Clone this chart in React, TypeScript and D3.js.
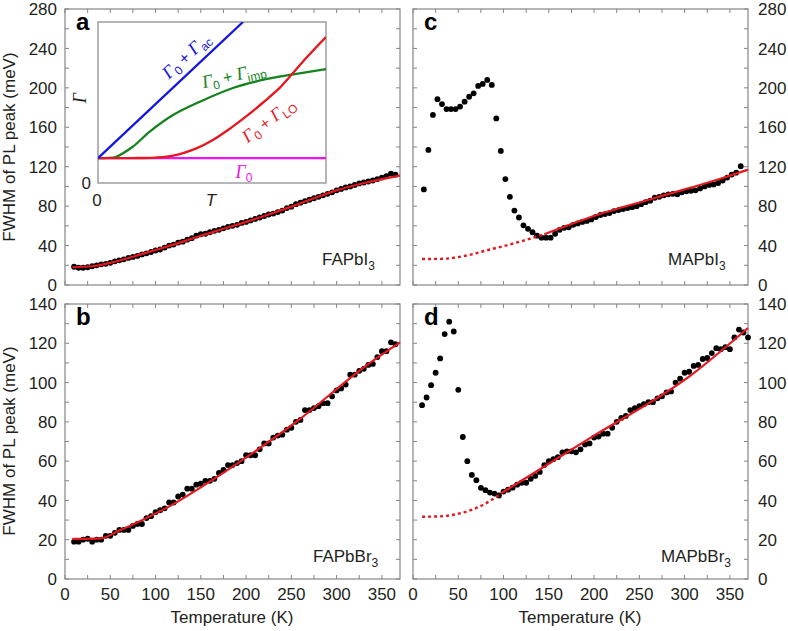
import React from 'react';
import * as d3 from 'd3';

const FONT = "'Liberation Sans', Arial, Helvetica, sans-serif";
const SERIF = "'Liberation Serif', 'Times New Roman', serif";

// ---------- data ----------
const tempsA = [10,15,20,25,30,35,40,45,50,55,60,65,70,75,80,85,90,95,100,105,110,115,120,125,130,135,140,145,150,155,160,165,170,175,180,185,190,195,200,205,210,215,220,225,230,235,240,245,250,255,260,265,270,275,280,285,290,295,300,305,310,315,320,325,330,335,340,345,350,355,360,365];
const fwhmFAPbI3 = [18.5,17.5,17.5,18,19,20,21,21.5,22.5,24,25,26,27.5,28.5,29.5,31,32,33.5,35,36,38,40,41,43,44,46,47.5,50,51.5,52,53.5,55,56,57.5,59,60,61,63,64,65.5,67,68.5,70,71.5,72.5,74,75.5,78,79.5,82,83.5,85,86.5,88,89.5,91,92.5,94,96,97.5,99,100,101.5,103,104,105,106,107.5,109,110.5,113,112];
const fitFAPbI3 = [[8,18],[30,19],[50,22.5],[75,28.7],[100,35.5],[125,42.5],[150,50],[175,57],[200,64],[225,71.5],[250,79.5],[275,88],[300,96],[333,104],[370,111]];

const fwhmFAPbBr3 = [19,19,20,20.5,19,20,20,22,22,23.5,25,25,25,27,28,28,31,32,34,35,36,39,39,42,43,46,46,48,48.5,50,50,51,54,55.5,58,58,59,60,63,63,63,66,69,69,72,73,73.5,76,77,80,81,86,86,87,88,89.5,89.5,93,96,97,99,104,104,106,107,109,109.5,113,116,116,120.5,119.5];
const fitFAPbBr3 = [[8,20.4],[40,20.7],[57,24],[112,36.2],[186,57.5],[259,81.3],[333,108.8],[370,120.5]];

const tempsC = [12,17,22,27,32,37,42,47,52,57,62,67,72,77,82,87,92,97,102,107,112,117,122,127,132,137,142,147,152,157,162,167,172,177,182,187,192,197,202,207,212,217,222,227,232,237,242,247,252,257,262,267,272,277,282,287,292,297,302,307,312,317,322,327,332,337,342,347,352,357,362];
const fwhmMAPbI3 = [97,137,172.5,188.5,183.5,178.5,178.5,178.5,181,186,191,194.5,202,204,208,203,169,136,107.5,89.5,75.5,68.5,60.5,57,53.5,50,48,48,48,52,56,58,58.5,61,62.5,64,65,66.5,69,71,72,73,75,76,77,78,79,80,82,84,85.5,88.5,89.5,91,92,92.5,92,94,95,95.5,96,98,100,101.5,102,103.5,106,109,112,114,120.5];
const fitMAPbI3 = [[145,51.5],[195,68.5],[268,88.5],[342,108.5],[370,117]];
const extMAPbI3 = [[10,26.4],[30,26.5],[48,28],[85,36],[122,45],[145,51.5]];

const tempsD = [10,15,20,25,30,35,40,45,50,55,60,65,70,75,80,85,90,95,100,105,110,115,120,125,130,135,140,145,150,155,160,165,170,175,180,185,190,195,200,205,210,215,220,225,230,235,240,245,250,255,260,265,270,275,280,285,290,295,300,305,310,315,320,325,330,335,340,345,350,355,360,365,370];
const fwhmMAPbBr3 = [88.5,92.4,98.7,105,112.3,124.7,131,126,96.3,72.3,60,53,50.3,46.4,45.2,44,43.5,42.5,44.5,45.5,46.5,48,49,49,51,52.5,54.5,58,60,61,62,64.5,65,65,64.5,66,68.5,69,72,72.5,74,74,77,80,82,83,86,87,88,89,90,90,92,93,95,95.5,100,102,105,105.5,108.5,109,112,112.5,115,117.5,117,118,117,123,127,125.5,123];
const fitMAPbBr3 = [[97,43.5],[195,71.6],[306,103.4],[370,127.8]];
const extMAPbBr3 = [[10,31.7],[30,31.9],[50,33.2],[66,35.4],[84.5,39.6],[97,43.5]];

const xTickLabels = [0,50,100,150,200,250,300,350];
const yLabelsTop = [0,40,80,120,160,200,240,280];
const yLabelsBottom = [0,20,40,60,80,100,120,140];

// inset schematic curves (T and Γ in relative units)
const insetAc = [[0,0.155],[0.636,1]];
const insetImp = [[0,0.155],[0.04,0.156],[0.08,0.163],[0.152,0.225],[0.227,0.319],[0.329,0.422],[0.447,0.505],[0.592,0.59],[0.741,0.646],[0.842,0.671],[1,0.708]];
const insetLO = [[0,0.155],[0.15,0.155],[0.25,0.158],[0.33,0.17],[0.434,0.217],[0.504,0.267],[0.579,0.338],[0.654,0.418],[0.724,0.5],[0.798,0.592],[0.842,0.662],[0.917,0.783],[1,0.907]];
const inset0 = [[0,0.155],[1,0.155]];

const RED = '#e5171f';
const FRAME = '#858585';
const TXT = '#231f20';

type P = number[];

function Compound({ x, y, base, sub }: { x: number; y: number; base: string; sub: string }) {
  return (
    <text x={x} y={y} fontFamily={FONT} fontSize={17} fill={TXT}>
      {base}
      <tspan dy={5} fontSize={12}>{sub}</tspan>
    </text>
  );
}

function Panel(props: any) {
  const { x0, x1, y0, y1, yMax, yStep, yLabels, side, showX, temps, values, fit, ext, letter, comp, compX, compY } = props;
  const x = d3.scaleLinear().domain([0, 370]).range([x0, x1]);
  const y = d3.scaleLinear().domain([0, yMax]).range([y1, y0]);
  const line = d3.line<P>().x(d => x(d[0])).y(d => y(d[1])).curve(d3.curveMonotoneX);
  const xt = d3.range(0, 371, 25);
  const yt = d3.range(0, yMax + 0.1, yStep);
  const tl = 4;
  return (
    <g>
      <rect x={x0} y={y0} width={x1 - x0} height={y1 - y0} fill="white" stroke={FRAME} strokeWidth={1.2} />
      {xt.map(t => (
        <g key={'x' + t}>
          <line x1={x(t)} x2={x(t)} y1={y1} y2={y1 - tl} stroke={FRAME} strokeWidth={1} />
          <line x1={x(t)} x2={x(t)} y1={y0} y2={y0 + tl} stroke={FRAME} strokeWidth={1} />
        </g>
      ))}
      {yt.map(v => (
        <g key={'y' + v}>
          <line x1={x0} x2={x0 + tl} y1={y(v)} y2={y(v)} stroke={FRAME} strokeWidth={1} />
          <line x1={x1} x2={x1 - tl} y1={y(v)} y2={y(v)} stroke={FRAME} strokeWidth={1} />
        </g>
      ))}
      {yLabels.map((v: number) => (
        <text key={'yl' + v} x={side === 'left' ? x0 - 8 : x1 + 10} y={y(v)} dy="0.36em"
          textAnchor={side === 'left' ? 'end' : 'start'} fontFamily={FONT} fontSize={17} fill={TXT}>{v}</text>
      ))}
      {showX && xTickLabels.map(v => (
        <text key={'xl' + v} x={x(v)} y={y1 + 21} textAnchor="middle" fontFamily={FONT} fontSize={17} fill={TXT}>{v}</text>
      ))}
      {temps.map((t: number, i: number) => (
        <circle key={'d' + i} cx={x(t)} cy={y(values[i])} r={2.9} fill="#000" />
      ))}
      {ext && <path d={line(ext) || ''} fill="none" stroke={RED} strokeWidth={2.4} strokeDasharray="3,3" />}
      <path d={line(fit) || ''} fill="none" stroke={RED} strokeWidth={2.2} />
      <text x={x0 + 11} y={y0 + 21} fontFamily={FONT} fontWeight="bold" fontSize={24} fill="#000">{letter}</text>
      <Compound x={compX} y={compY} base={comp[0]} sub={comp[1]} />
    </g>
  );
}

function GammaLabel({ x, y, angle, sub, color }: { x: number; y: number; angle: number; sub: string; color: string }) {
  return (
    <text transform={`translate(${x},${y}) rotate(${angle})`} textAnchor="middle" fill={color} fontFamily={FONT} fontSize={16}>
      <tspan fontFamily={SERIF} fontStyle="italic" fontSize={18}>Γ</tspan>
      <tspan dy={4} fontSize={12}>0</tspan>
      <tspan dy={-4}>{'\u00a0+\u00a0'}</tspan>
      <tspan fontFamily={SERIF} fontStyle="italic" fontSize={18}>Γ</tspan>
      <tspan dy={4} fontSize={12}>{sub}</tspan>
    </text>
  );
}

function Inset() {
  const ix = d3.scaleLinear().domain([0, 1]).range([98, 326]);
  const iy = d3.scaleLinear().domain([0, 1]).range([183, 22]);
  const line = d3.line<P>().x(d => ix(d[0])).y(d => iy(d[1])).curve(d3.curveCatmullRom.alpha(0.5));
  return (
    <g>
      <rect x={98} y={22} width={228} height={161} fill="white" stroke={FRAME} strokeWidth={1.2} />
      <defs>
        <clipPath id="insetClip"><rect x={98} y={22} width={228} height={161} /></clipPath>
      </defs>
      <g clipPath="url(#insetClip)">
        <path d={line(inset0) || ''} fill="none" stroke="#f012f0" strokeWidth={2.3} />
        <path d={line(insetImp) || ''} fill="none" stroke="#16821e" strokeWidth={2.3} />
        <path d={line(insetLO) || ''} fill="none" stroke={RED} strokeWidth={2.3} />
        <path d={line(insetAc) || ''} fill="none" stroke="#1515e0" strokeWidth={2.3} />
      </g>
      <GammaLabel x={190} y={60} angle={-43} sub="ac" color="#1515e0" />
      <GammaLabel x={235} y={81} angle={-13} sub="imp" color="#16821e" />
      <GammaLabel x={272} y={125} angle={-37} sub="LO" color={RED} />
      <text x={244} y={178} fill="#f012f0" fontFamily={FONT} fontSize={16} textAnchor="middle">
        <tspan fontFamily={SERIF} fontStyle="italic" fontSize={18}>Γ</tspan>
        <tspan dy={4} fontSize={12}>0</tspan>
      </text>
      <text x={91} y={189} textAnchor="end" fontFamily={FONT} fontSize={17} fill={TXT}>0</text>
      <text x={97} y={206} textAnchor="middle" fontFamily={FONT} fontSize={17} fill={TXT}>0</text>
      <text x={211} y={206} textAnchor="middle" fontFamily={FONT} fontStyle="italic" fontSize={17} fill={TXT}>T</text>
      <text transform="translate(86,98) rotate(-90)" textAnchor="middle" fontFamily={SERIF} fontStyle="italic" fontSize={18} fill={TXT}>Γ</text>
    </g>
  );
}

export default function App() {
  const L = [65, 400];
  const R = [413, 748];
  const T = [9, 285];
  const B = [304, 579];
  return (
    <svg width={788} height={631} style={{ position: 'absolute', left: 0, top: 0, background: 'white' }}>
      <rect x={0} y={0} width={788} height={631} fill="white" />
      <Panel x0={L[0]} x1={L[1]} y0={T[0]} y1={T[1]} yMax={280} yStep={20} yLabels={yLabelsTop} side="left" showX={false}
        temps={tempsA} values={fwhmFAPbI3} fit={fitFAPbI3} letter="a" comp={['FAPbI', '3']} compX={322} compY={265} />
      <Inset />
      <Panel x0={R[0]} x1={R[1]} y0={T[0]} y1={T[1]} yMax={280} yStep={20} yLabels={yLabelsTop} side="right" showX={false}
        temps={tempsC} values={fwhmMAPbI3} fit={fitMAPbI3} ext={extMAPbI3} letter="c" comp={['MAPbI', '3']} compX={668} compY={265} />
      <Panel x0={L[0]} x1={L[1]} y0={B[0]} y1={B[1]} yMax={140} yStep={10} yLabels={yLabelsBottom} side="left" showX={true}
        temps={tempsA} values={fwhmFAPbBr3} fit={fitFAPbBr3} letter="b" comp={['FAPbBr', '3']} compX={313} compY={562} />
      <Panel x0={R[0]} x1={R[1]} y0={B[0]} y1={B[1]} yMax={140} yStep={10} yLabels={yLabelsBottom} side="right" showX={true}
        temps={tempsD} values={fwhmMAPbBr3} fit={fitMAPbBr3} ext={extMAPbBr3} letter="d" comp={['MAPbBr', '3']} compX={661} compY={562} />
      <text transform="translate(15,147) rotate(-90)" textAnchor="middle" fontFamily={FONT} fontSize={17} fill={TXT}>FWHM of PL peak (meV)</text>
      <text transform="translate(15,441) rotate(-90)" textAnchor="middle" fontFamily={FONT} fontSize={17} fill={TXT}>FWHM of PL peak (meV)</text>
      <text x={232} y={623} textAnchor="middle" fontFamily={FONT} fontSize={17} fill={TXT}>Temperature (K)</text>
      <text x={580} y={623} textAnchor="middle" fontFamily={FONT} fontSize={17} fill={TXT}>Temperature (K)</text>
    </svg>
  );
}
